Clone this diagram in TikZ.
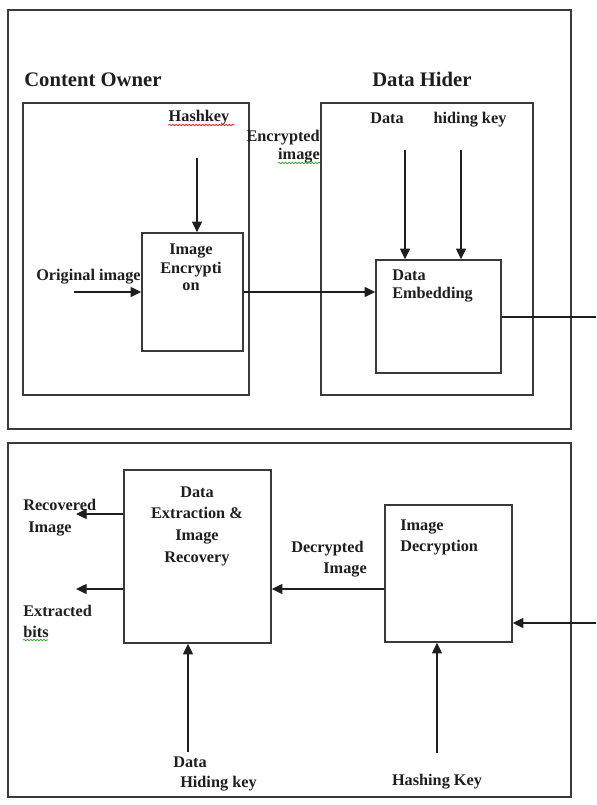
\documentclass[tikz,border=0pt]{standalone}
\usepackage{fontspec}
\setmainfont{Liberation Serif}
\usetikzlibrary{arrows.meta,fit,decorations.pathmorphing}

\definecolor{ink}{HTML}{1E1E1E}
\definecolor{frame}{HTML}{3A3A3A}
\definecolor{spellred}{HTML}{E02020}
\definecolor{spellgreen}{HTML}{3A9A30}

\tikzset{
  outerbox/.style={draw=frame, line width=1.1pt},
  groupbox/.style={draw=frame, line width=1.1pt},
  procbox/.style={draw=frame, line width=1.1pt, fill=white, inner sep=0pt},
  wire/.style={draw=ink, line width=1pt},
  arr/.style={wire, -{Triangle[length=8pt,width=7.5pt]}},
  lbl/.style={text=ink, inner sep=0pt, font=\fontsize{12.2}{15}\selectfont\bfseries},
  title/.style={text=ink, inner sep=0pt, font=\fontsize{15.5}{18}\selectfont\bfseries},
  squiggle/.style={line width=0.6pt, decorate,
    decoration={snake, amplitude=0.5pt, segment length=2.5pt}}
}

\begin{document}
\begin{tikzpicture}[x=0.75pt, y=-0.75pt]
  \useasboundingbox (0,0) rectangle (596,805);

  % ---------- sender side ----------
  \draw[outerbox] (8,10) rectangle (571,429);
  \draw[groupbox] (23,103) rectangle (249,395);
  \draw[groupbox] (321,103) rectangle (533,395);

  \node[title, anchor=base west] (owner) at (24,87) {Content Owner};
  \node[title, anchor=base west] (hider) at (372,87) {Data Hider};

  \node[procbox, fit={(142,233) (243,351)}] (enc) {};
  \node[procbox, fit={(376,260) (501,373)}] (emb) {};

  % text inside the processing boxes, one node per line
  \node[lbl, anchor=base] (encA) at (191,255) {Image};
  \node[lbl, anchor=base] (encB) at (191,273) {Encrypti};
  \node[lbl, anchor=base] (encC) at (191,290) {on};
  \node[lbl, anchor=base west] (embA) at (392,280) {Data};
  \node[lbl, anchor=base west] (embB) at (392,298) {Embedding};

  \node[lbl, anchor=base] (hashkey) at (199,122) {Hashkey};
  \draw[spellred, squiggle] (hashkey.base west) ++(0,3) -- ++(66,0);
  \node[lbl, anchor=base west] (orig) at (36,281) {Original image};
  \node[lbl, anchor=base east] (encrA) at (320,142) {Encrypted};
  \node[lbl, anchor=base east] (encrB) at (320,160) {image};
  \draw[spellgreen, squiggle] (encrB.base west) ++(0,3) -- (320,163);
  \node[lbl, anchor=base] (data) at (387,124) {Data};
  \node[lbl, anchor=base] (hidkey) at (470,124) {hiding key};

  \coordinate (hk0) at (197,158);
  \coordinate (oi0) at (74,292);
  \coordinate (d0)  at (405,150);
  \coordinate (k0)  at (461,150);
  \coordinate (out1) at (596,317);

  \draw[arr] (hk0) -- (hk0 |- enc.north);
  \draw[arr] (oi0) -- (oi0 -| enc.west);
  \draw[arr] (enc.east) -- (enc.east -| emb.west);
  \draw[arr] (d0) -- (d0 |- emb.north);
  \draw[arr] (k0) -- (k0 |- emb.north);
  \draw[wire] (emb.east |- out1) -- (out1);

  % ---------- receiver side ----------
  \draw[outerbox] (8,443) rectangle (571,797);

  \node[procbox, fit={(124,470) (271,643)}] (ext) {};
  \node[procbox, fit={(385,505) (512,642)}] (dec) {};

  \node[lbl, anchor=base] (extA) at (197,497) {Data};
  \node[lbl, anchor=base] (extB) at (197,518) {Extraction \&};
  \node[lbl, anchor=base] (extC) at (197,540) {Image};
  \node[lbl, anchor=base] (extD) at (197,562) {Recovery};
  \node[lbl, anchor=base west] (decA) at (400,530) {Image};
  \node[lbl, anchor=base west] (decB) at (400,551) {Decryption};

  \node[lbl, anchor=base west] (recA) at (23,510) {Recovered};
  \node[lbl, anchor=base west] (recB) at (28,532) {Image};
  \node[lbl, anchor=base west] (bitsA) at (23,616) {Extracted};
  \node[lbl, anchor=base west] (bitsB) at (23,637) {bits};
  \draw[spellgreen, squiggle] (bitsB.base west) ++(0,3) -- ++(25,0);
  \node[lbl, anchor=base west] (dkA) at (173,767) {Data};
  \node[lbl, anchor=base west] (dkB) at (180,787) {Hiding key};
  \node[lbl, anchor=base west] (dimA) at (291,552) {Decrypted};
  \node[lbl, anchor=base east] (dimB) at (367,573) {Image};
  \node[lbl, anchor=base] (hashing) at (437,785) {Hashing Key};

  \coordinate (r0)  at (76,514);
  \coordinate (b0)  at (76,589);
  \coordinate (in0) at (596,623);
  \coordinate (hk1) at (188,752);
  \coordinate (hk2) at (437,753);

  \draw[arr] (r0 -| ext.west) -- (r0);
  \draw[arr] (b0 -| ext.west) -- (b0);
  \draw[arr] (b0 -| dec.west) -- (b0 -| ext.east);
  \draw[arr] (in0) -- (in0 -| dec.east);
  \draw[arr] (hk1) -- (hk1 |- ext.south);
  \draw[arr] (hk2) -- (hk2 |- dec.south);
\end{tikzpicture}
\end{document}
